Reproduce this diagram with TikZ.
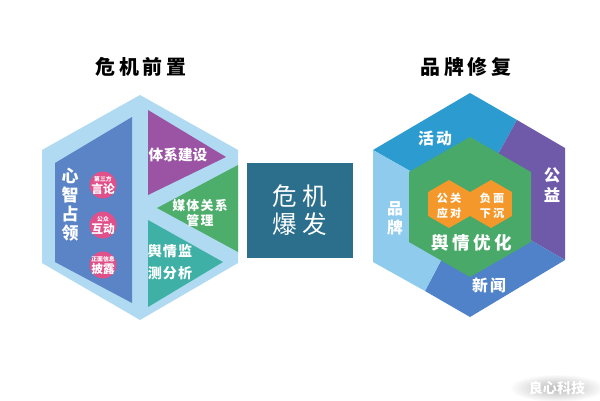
\documentclass[tikz,border=0pt]{standalone}
\usepackage{fontspec}
\setmainfont{Noto Sans CJK SC}
\definecolor{framebl}{HTML}{B0DAF1}
\definecolor{mindbl}{HTML}{5B84C6}
\definecolor{sysvio}{HTML}{9B54A4}
\definecolor{medgrn}{HTML}{4DAE6C}
\definecolor{montea}{HTML}{3EB0A6}
\definecolor{dotpink}{HTML}{E0508A}
\definecolor{crisis}{HTML}{2B6F8C}
\definecolor{actbl}{HTML}{2C9BD0}
\definecolor{pubvio}{HTML}{6E5AA9}
\definecolor{newsbl}{HTML}{4F82C8}
\definecolor{brandbl}{HTML}{8FCBED}
\definecolor{optgrn}{HTML}{49A968}
\definecolor{pror}{HTML}{F4982C}
\usepackage{tikz}
\usetikzlibrary{positioning,calc}

\newcommand{\fsz}[2]{\fontsize{#1}{#2}\selectfont}

\begin{document}
\begin{tikzpicture}[x=0.03cm, y=-0.03cm,
    lbl/.style={text=white, inner sep=0pt, align=center},
    title/.style={inner sep=0pt, font=\bfseries\fsz{17pt}{20pt}\addfontfeature{LetterSpace=20}}]
    \useasboundingbox (0,0) rectangle (600,400);

    % Titles
    \node[title] (pre) at (141,67) {危机前置};
    \node[title] (rep) at (466,67) {品牌修复};

    % Left hexagon frame
    \fill[framebl] (140,95) -- (238,150) -- (238,263) -- (140,320) -- (42,263) -- (42,150) -- cycle;
    % Mind block
    \fill[mindbl] (132,117) -- (132,303) -- (55,262) -- (55,163) -- cycle;
    \node[lbl, font=\bfseries\fsz{14.5pt}{16.3pt}] (mind) at (70,205) {心\\智\\占\\领};
    % Pink dots
    \foreach \y/\sm/\big/\nm in {185/第三方/言论/d1, 225/公众/互动/d2, 265/正面信息/披露/d3} {
        \fill[dotpink] (103,\y) circle (13.5);
        \node[lbl, font=\bfseries\fsz{5pt}{6pt}] (\nm s) at (103,\y-6) {\sm};
        \node[lbl, font=\bfseries\fsz{10pt}{12pt}] (\nm) at (103,\y+4) {\big};
    }
    % Triangles
    \fill[sysvio] (148,110) -- (226,157) -- (148,195) -- cycle;
    \fill[medgrn] (238,165) -- (157,208) -- (238,252) -- cycle;
    \fill[montea] (148,220) -- (223,262) -- (148,307) -- cycle;
    \node[lbl, font=\bfseries\fsz{12.5pt}{14pt}] (sys) at (178,155) {体系建设};
    \node[lbl, font=\bfseries\fsz{11pt}{12.8pt}\addfontfeature{LetterSpace=10}] (med) at (200,213)
        {媒体关系\\管理};
    \node[lbl, font=\bfseries\fsz{12pt}{14pt}\addfontfeature{LetterSpace=8}] (mon1) at (170,251) {舆情监};
    \node[lbl, font=\bfseries\fsz{12pt}{14pt}\addfontfeature{LetterSpace=8}] (mon2) at (170,273) {测分析};

    % Crisis box
    \node[fill=crisis, minimum width=106*0.03cm, minimum height=95*0.03cm, inner sep=0pt,
          text=white, align=center, font=\fsz{21pt}{24pt}\addfontfeature{LetterSpace=20}] (burst) at (300,210.5)
        {危机\\爆发};

    % Right hexagon sectors
    \coordinate (c) at (470,205);
    \fill[actbl] (c) -- (373,150) -- (470,93) -- (517,120) -- cycle;
    \fill[pubvio] (c) -- (517,120) -- (565,148) -- (565,260) -- cycle;
    \fill[newsbl] (c) -- (565,260) -- (470,317) -- (425,291) -- cycle;
    \fill[brandbl] (c) -- (425,291) -- (373,262) -- (373,150) -- cycle;
    \node[lbl, font=\bfseries\fsz{13.5pt}{16pt}\addfontfeature{LetterSpace=15}] (act) at (435,138) {活动};
    \node[lbl, font=\bfseries\fsz{14pt}{17pt}] (pub) at (552,185) {公\\益};
    \node[lbl, font=\bfseries\fsz{13.5pt}{16pt}] (brand) at (395,218) {品\\牌};
    \node[lbl, font=\bfseries\fsz{13.5pt}{16pt}\addfontfeature{LetterSpace=15}] (news) at (489,285) {新闻};

    % Opinion optimisation hexagon
    \fill[optgrn] (470,137) -- (531,172) -- (531,242) -- (470,277) -- (409,242) -- (409,172) -- cycle;
    \foreach \cx in {449,491}
        \fill[pror] (\cx,180) -- (\cx+20.8,192) -- (\cx+20.8,216) -- (\cx,228) -- (\cx-20.8,216) -- (\cx-20.8,192) -- cycle;
    \node[lbl, font=\bfseries\fsz{9.5pt}{12.8pt}\addfontfeature{LetterSpace=20}] (pr) at (449,205.5) {公关\\应对};
    \node[lbl, font=\bfseries\fsz{9.5pt}{12.8pt}\addfontfeature{LetterSpace=20}] (neg) at (492,205.5) {负面\\下沉};
    \node[lbl, font=\bfseries\fsz{15pt}{18pt}\addfontfeature{LetterSpace=20}] (opt) at (472,243) {舆情优化};

    % Watermark
    \shade[inner color=gray!55, outer color=white] (557,388) ellipse (48 and 14);
    \node[lbl, font=\bfseries\fsz{12pt}{14pt}] (mark) at (557,388) {良心科技};
\end{tikzpicture}
\end{document}
